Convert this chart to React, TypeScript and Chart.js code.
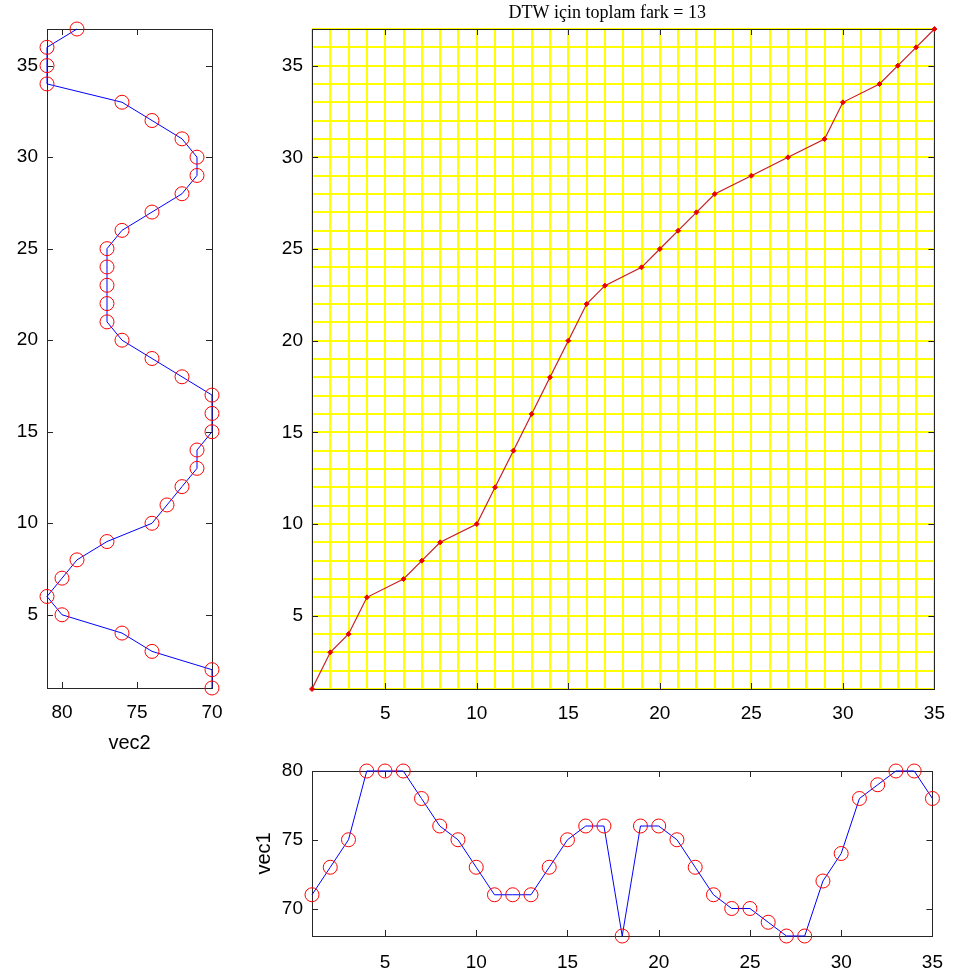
import { useEffect, useRef } from 'react';
import { Chart, registerables } from 'chart.js';

Chart.register(...registerables);

// vec1: values for index 1..35
const vec1 = [71, 73, 75, 80, 80, 80, 78, 76, 75, 73, 71, 71, 71, 73, 75, 76, 76, 68, 76, 76, 75, 73, 71, 70, 70, 69, 68, 68, 72, 74, 78, 79, 80, 80, 78];
// vec2: values for index 1..37
const vec2 = [70, 70, 74, 76, 80, 81, 80, 79, 77, 74, 73, 72, 71, 71, 70, 70, 70, 72, 74, 76, 77, 77, 77, 77, 77, 76, 74, 72, 71, 71, 72, 74, 76, 81, 81, 81, 79];
// DTW warping path (vec1 index, vec2 index)
const pathX = [1, 2, 3, 4, 6, 7, 8, 10, 11, 12, 13, 14, 15, 16, 17, 19, 20, 21, 22, 23, 25, 27, 29, 30, 32, 33, 34, 35];
const pathY = [1, 3, 4, 6, 7, 8, 9, 10, 12, 14, 16, 18, 20, 22, 23, 24, 25, 26, 27, 28, 29, 30, 31, 33, 34, 35, 36, 37];

const indexTicks = [5, 10, 15, 20, 25, 30, 35];
const valueTicks = [70, 75, 80];
const titleText = 'DTW için toplam fark = 13';
const vec1Label = 'vec1';
const vec2Label = 'vec2';

const SANS = '"Liberation Sans", Arial, Helvetica, sans-serif';
const SERIF = '"Liberation Serif", "Times New Roman", serif';
const TICK_FONT = { family: SANS, size: 19 };
const LABEL_FONT = { family: SANS, size: 20 };

function makeFrame(xTicks: number[], yTicks: number[], tickLen: number, gridColor?: string) {
  return {
    id: 'frame',
    beforeDatasetsDraw(chart: any) {
      const { ctx, chartArea: a, scales } = chart;
      ctx.save();
      if (gridColor) {
        ctx.strokeStyle = gridColor;
        ctx.lineWidth = 2;
        ctx.beginPath();
        for (let v = Math.ceil(scales.x.min); v <= scales.x.max; v++) {
          const px = Math.round(scales.x.getPixelForValue(v));
          ctx.moveTo(px, a.top);
          ctx.lineTo(px, a.bottom);
        }
        for (let v = Math.ceil(scales.y.min); v <= scales.y.max; v++) {
          const py = Math.round(scales.y.getPixelForValue(v));
          ctx.moveTo(a.left, py);
          ctx.lineTo(a.right, py);
        }
        ctx.stroke();
      }
      ctx.strokeStyle = '#262626';
      ctx.lineWidth = 1;
      ctx.beginPath();
      for (const v of xTicks) {
        const px = Math.round(scales.x.getPixelForValue(v)) + 0.5;
        ctx.moveTo(px, a.bottom);
        ctx.lineTo(px, a.bottom - tickLen);
        ctx.moveTo(px, a.top);
        ctx.lineTo(px, a.top + tickLen);
      }
      for (const v of yTicks) {
        const py = Math.round(scales.y.getPixelForValue(v)) + 0.5;
        ctx.moveTo(a.left, py);
        ctx.lineTo(a.left + tickLen, py);
        ctx.moveTo(a.right, py);
        ctx.lineTo(a.right - tickLen, py);
      }
      ctx.stroke();
      ctx.strokeRect(Math.round(a.left) + 0.5, Math.round(a.top) + 0.5, Math.round(a.right - a.left), Math.round(a.bottom - a.top));
      ctx.restore();
    },
  };
}

const titlePlugin = {
  id: 'topTitle',
  afterDraw(chart: any) {
    const { ctx, chartArea: a } = chart;
    ctx.save();
    ctx.fillStyle = '#000';
    ctx.font = `18px ${SERIF}`;
    ctx.textAlign = 'center';
    ctx.textBaseline = 'middle';
    ctx.fillText(titleText, (a.left + a.right) / 2 - 16, 13);
    ctx.restore();
  },
};

function fixedTicks(values: number[]) {
  return (scale: any) => {
    scale.ticks = values.map((v) => ({ value: v }));
  };
}

function useChart(ref: any, build: () => any) {
  useEffect(() => {
    const chart = new Chart(ref.current, build());
    return () => chart.destroy();
  }, []);
}

const circleStyle = {
  showLine: true,
  borderColor: '#0000ff',
  borderWidth: 1,
  pointRadius: 7,
  pointBorderColor: '#ff0000',
  pointBackgroundColor: 'rgba(0,0,0,0)',
  pointBorderWidth: 1,
  clip: false,
};

function LeftPanel() {
  const ref = useRef<HTMLCanvasElement>(null);
  useChart(ref, () => ({
    type: 'scatter',
    data: {
      datasets: [{ data: vec2.map((v, i) => ({ x: v, y: i + 1 })), ...circleStyle }],
    },
    options: {
      responsive: false,
      animation: false,
      layout: { padding: { top: 29, right: 38, left: 0, bottom: 0 } },
      plugins: { legend: { display: false }, tooltip: { enabled: false } },
      scales: {
        x: {
          type: 'linear',
          min: 70,
          max: 81,
          reverse: true,
          afterBuildTicks: fixedTicks(valueTicks),
          afterFit: (s: any) => { s.height = 72; },
          grid: { display: false, drawTicks: false },
          border: { display: false },
          ticks: { font: TICK_FONT, color: '#000', padding: 13, maxRotation: 0, autoSkip: false },
          title: { display: true, text: vec2Label, font: LABEL_FONT, color: '#000', padding: { top: 0, bottom: 5 } },
        },
        y: {
          type: 'linear',
          min: 1,
          max: 37,
          afterBuildTicks: fixedTicks(indexTicks),
          afterFit: (s: any) => { s.width = 47; },
          grid: { display: false, drawTicks: false },
          border: { display: false },
          ticks: { font: TICK_FONT, color: '#000', padding: 9, autoSkip: false },
        },
      },
    },
    plugins: [makeFrame(valueTicks, indexTicks, 6)],
  }));
  return <canvas ref={ref} width={250} height={760} style={{ position: 'absolute', left: 0, top: 0 }} />;
}

function MainPanel() {
  const ref = useRef<HTMLCanvasElement>(null);
  useChart(ref, () => ({
    type: 'scatter',
    data: {
      datasets: [
        {
          data: pathX.map((x, i) => ({ x, y: pathY[i] })),
          showLine: true,
          borderColor: 'rgb(200,30,30)',
          borderWidth: 1.2,
          pointRadius: 2.5,
          pointStyle: 'rectRot',
          pointBorderColor: 'rgb(235,0,0)',
          pointBackgroundColor: 'rgb(235,0,0)',
          pointBorderWidth: 1,
          clip: false,
        },
      ],
    },
    options: {
      responsive: false,
      animation: false,
      layout: { padding: { top: 29, right: 20, left: 0, bottom: 0 } },
      plugins: { legend: { display: false }, tooltip: { enabled: false } },
      scales: {
        x: {
          type: 'linear',
          min: 1,
          max: 35,
          afterBuildTicks: fixedTicks(indexTicks),
          afterFit: (s: any) => { s.height = 61; },
          grid: { display: false, drawTicks: false },
          border: { display: false },
          ticks: { font: TICK_FONT, color: '#000', padding: 13, maxRotation: 0, autoSkip: false },
        },
        y: {
          type: 'linear',
          min: 1,
          max: 37,
          afterBuildTicks: fixedTicks(indexTicks),
          afterFit: (s: any) => { s.width = 62; },
          grid: { display: false, drawTicks: false },
          border: { display: false },
          ticks: { font: TICK_FONT, color: '#000', padding: 9, autoSkip: false },
        },
      },
    },
    plugins: [makeFrame(indexTicks, indexTicks, 6, 'rgb(255,255,0)'), titlePlugin],
  }));
  return <canvas ref={ref} width={708} height={750} style={{ position: 'absolute', left: 250, top: 0 }} />;
}

function BottomPanel() {
  const ref = useRef<HTMLCanvasElement>(null);
  useChart(ref, () => ({
    type: 'scatter',
    data: {
      datasets: [{ data: vec1.map((v, i) => ({ x: i + 1, y: v })), ...circleStyle }],
    },
    options: {
      responsive: false,
      animation: false,
      layout: { padding: { top: 31, right: 20, left: 0, bottom: 0 } },
      plugins: { legend: { display: false }, tooltip: { enabled: false } },
      scales: {
        x: {
          type: 'linear',
          min: 1,
          max: 35,
          afterBuildTicks: fixedTicks(indexTicks),
          afterFit: (s: any) => { s.height = 38; },
          grid: { display: false, drawTicks: false },
          border: { display: false },
          ticks: { font: TICK_FONT, color: '#000', padding: 15, maxRotation: 0, autoSkip: false },
        },
        y: {
          type: 'linear',
          min: 68,
          max: 80,
          afterBuildTicks: fixedTicks(valueTicks),
          afterFit: (s: any) => { s.width = 62; },
          grid: { display: false, drawTicks: false },
          border: { display: false },
          ticks: { font: TICK_FONT, color: '#000', padding: 9, autoSkip: false },
          title: { display: true, text: vec1Label, font: LABEL_FONT, color: '#000', padding: { top: 2, bottom: 0 } },
        },
      },
    },
    plugins: [makeFrame(indexTicks, valueTicks, 6)],
  }));
  return <canvas ref={ref} width={708} height={234} style={{ position: 'absolute', left: 250, top: 740 }} />;
}

export default function App() {
  return (
    <div style={{ position: 'absolute', left: 0, top: 0, width: 958, height: 974, background: '#fff', overflow: 'hidden' }}>
      <LeftPanel />
      <MainPanel />
      <BottomPanel />
    </div>
  );
}
